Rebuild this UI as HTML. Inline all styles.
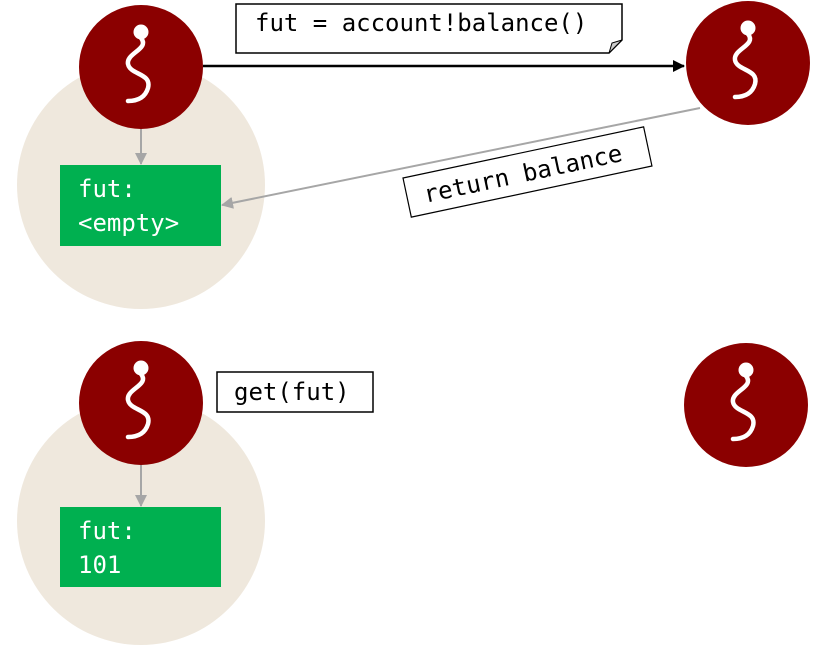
<!DOCTYPE html>
<html><head><style>
body{margin:0;background:#fff;}
svg{display:block;}
text{font-family:"DejaVu Sans Mono","Liberation Mono",monospace;}
</style></head><body>
<svg width="816" height="648" viewBox="0 0 816 648">
<defs>
<g id="thr">
<circle r="62" fill="#8b0000"/>
<circle cx="0" cy="-35" r="7.5" fill="#fff"/>
<path d="M0,-29 C9,-18 -15,-14 -13,-3 C-11,8 11,6 7,21 C4,31 -4,34 -13,34" fill="none" stroke="#fff" stroke-width="4.5" stroke-linecap="round"/>
</g>
<marker id="ab" markerWidth="12" markerHeight="12" refX="11" refY="6" orient="auto" markerUnits="userSpaceOnUse"><path d="M0,0 L12,6 L0,12 z" fill="#000"/></marker>
<marker id="ag" markerWidth="12" markerHeight="12" refX="11" refY="6" orient="auto" markerUnits="userSpaceOnUse"><path d="M0,0 L12,6 L0,12 z" fill="#a6a6a6"/></marker>
</defs>
<circle cx="141" cy="185" r="124" fill="#efe8dd"/>
<circle cx="141" cy="521" r="124" fill="#efe8dd"/>
<use href="#thr" x="141" y="67"/>
<use href="#thr" x="748" y="63"/>
<use href="#thr" x="141" y="403"/>
<use href="#thr" x="746" y="405"/>
<line x1="141" y1="129" x2="141" y2="164" stroke="#a6a6a6" stroke-width="2" marker-end="url(#ag)"/>
<line x1="141" y1="465" x2="141" y2="506" stroke="#a6a6a6" stroke-width="2" marker-end="url(#ag)"/>
<rect x="60" y="165" width="161" height="81" fill="#00b050"/>
<text x="78" y="197" font-size="24" fill="#fff">fut:</text>
<text x="78" y="231" font-size="24" fill="#fff">&lt;empty&gt;</text>
<rect x="60" y="507" width="161" height="80" fill="#00b050"/>
<text x="78" y="539" font-size="24" fill="#fff">fut:</text>
<text x="78" y="573" font-size="24" fill="#fff">101</text>
<line x1="203" y1="66" x2="684" y2="66" stroke="#000" stroke-width="2.5" marker-end="url(#ab)"/>
<path d="M236,4 H622 V40 L609,53 H236 Z" fill="#fff" stroke="#000" stroke-width="1.5"/>
<path d="M609,53 L612,43 L622,40 Z" fill="#ccc" stroke="#000" stroke-width="1"/>
<text x="255" y="31" font-size="24" fill="#000">fut = account!balance()</text>
<line x1="700" y1="108" x2="222" y2="205" stroke="#a6a6a6" stroke-width="2" marker-end="url(#ag)"/>
<g transform="translate(403,178) rotate(-12)">
<rect x="0" y="0" width="246" height="40" fill="#fff" stroke="#000" stroke-width="1.2"/>
<text x="17" y="29" font-size="24" fill="#000">return balance</text>
</g>
<rect x="217" y="372" width="156" height="40" fill="#fff" stroke="#000" stroke-width="1.5"/>
<text x="234" y="400" font-size="24" fill="#000">get(fut)</text>
</svg>
</body></html>
